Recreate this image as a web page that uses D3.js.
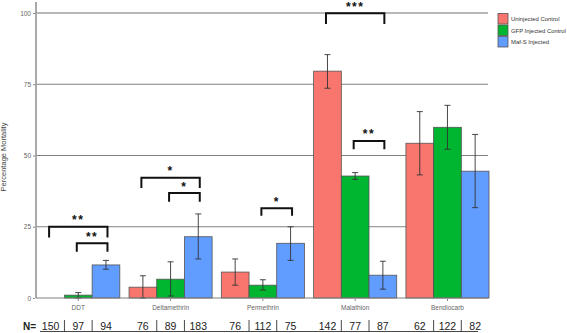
<!DOCTYPE html>
<html>
  <head>
    <script type="text/javascript" src="https://cdnjs.cloudflare.com/ajax/libs/d3/7.8.5/d3.min.js"></script>
    <style>
      body { margin: 0; background: #fff; }
      text { font-family: "Liberation Sans", Arial, sans-serif; }
    </style>
  </head>
  <body>
    <script type="text/javascript">
      var w = 567;
      var h = 333;

      // insecticides and injection treatments
      var groups = ["DDT", "Deltamethrin", "Permethrin", "Malathion", "Bendiocarb"];
      var series = ["Uninjected Control", "GFP Injected Control", "Maf-S Injected"];
      var colors = ["#F8766D", "#00B52F", "#619CFF"];

      // percentage mortality per group, one array per series
      var uninjected = [0, 3.8, 9.1, 79.6, 54.3];
      var gfp = [1.0, 6.6, 4.5, 42.8, 59.9];
      var mafs = [11.6, 21.5, 19.2, 8.0, 44.5];

      // error bar low / high
      var uninjectedLo = [0, 0, 4.5, 73.6, 43.2];
      var uninjectedHi = [0, 7.8, 13.7, 85.4, 65.4];
      var gfpLo = [0, 0.7, 2.8, 41.6, 52.2];
      var gfpHi = [1.9, 12.7, 6.4, 44.0, 67.6];
      var mafsLo = [10.1, 13.7, 13.2, 3.1, 31.7];
      var mafsHi = [13.2, 29.5, 25.0, 12.9, 57.4];

      // sample sizes (N=)
      var uninjectedN = [150, 76, 76, 142, 62];
      var gfpN = [97, 89, 112, 77, 122];
      var mafsN = [94, 183, 75, 87, 82];

      // significance brackets: group, from series, to series, level, leg end, label
      var brackets = [
        ["DDT", 0, 2, 25.0, 21.2, "**"],
        ["DDT", 1, 2, 19.2, 16.2, "**"],
        ["Deltamethrin", 0, 2, 42.2, 38.6, "*"],
        ["Deltamethrin", 1, 2, 36.8, 33.8, "*"],
        ["Permethrin", 1, 2, 31.5, 28.9, "*"],
        ["Malathion", 0, 2, 99.9, 96.1, "***"],
        ["Malathion", 1, 2, 55.1, 52.2, "**"]
      ];

      var yTicks = [0, 25, 50, 75, 100];

      var values = [uninjected, gfp, mafs];
      var lows = [uninjectedLo, gfpLo, mafsLo];
      var highs = [uninjectedHi, gfpHi, mafsHi];
      var ns = [uninjectedN, gfpN, mafsN];

      var rows = [];
      groups.forEach((g, gi) => {
        series.forEach((s, si) => {
          rows.push({ group: g, series: s, si: si, v: values[si][gi],
                      lo: lows[si][gi], hi: highs[si][gi], n: ns[si][gi] });
        });
      });

      var xScale = d3.scaleBand()
        .domain(groups)
        .range([36.75, 489])
        .paddingInner(0.1)
        .paddingOuter(0);
      var xSub = d3.scaleBand()
        .domain(series)
        .range([0, xScale.bandwidth()]);
      var yScale = d3.scaleLinear()
        .domain([0, 100])
        .range([298, 13]);

      var cx = d => xScale(d.group) + xSub(d.series) + xSub.bandwidth() / 2;

      var svg = d3.select("body").append("svg")
        .attr("width", w)
        .attr("height", h);

      // gridlines
      svg.selectAll("line.grid")
        .data(yTicks.filter(t => t > 0))
        .enter()
        .append("line")
        .attr("x1", 36).attr("x2", 488)
        .attr("y1", d => yScale(d)).attr("y2", d => yScale(d))
        .attr("stroke", d => d === 100 ? "#a0a0a0" : "#808080")
        .attr("stroke-width", d => d === 100 ? 1.6 : 1.1);

      // bars
      svg.selectAll("rect.bar")
        .data(rows.filter(d => d.v > 0))
        .enter()
        .append("rect")
        .attr("x", d => xScale(d.group) + xSub(d.series))
        .attr("width", xSub.bandwidth())
        .attr("y", d => yScale(d.v))
        .attr("height", d => yScale(0) - yScale(d.v))
        .attr("fill", d => colors[d.si])
        .attr("stroke", "#555")
        .attr("stroke-width", 0.8);

      // error bars
      var err = svg.selectAll("g.err")
        .data(rows.filter(d => d.hi > 0))
        .enter()
        .append("g")
        .attr("stroke", "#333")
        .attr("stroke-width", 0.9);
      err.append("line")
        .attr("x1", cx).attr("x2", cx)
        .attr("y1", d => yScale(d.lo)).attr("y2", d => yScale(d.hi));
      err.append("line")
        .attr("x1", d => cx(d) - 3).attr("x2", d => cx(d) + 3)
        .attr("y1", d => yScale(d.hi)).attr("y2", d => yScale(d.hi));
      err.append("line")
        .attr("x1", d => cx(d) - 3).attr("x2", d => cx(d) + 3)
        .attr("y1", d => yScale(d.lo)).attr("y2", d => yScale(d.lo));

      // axes lines
      svg.append("line")
        .attr("x1", 36).attr("x2", 36).attr("y1", 2).attr("y2", yScale(0))
        .attr("stroke", "#a0a0a0").attr("stroke-width", 1.8);
      svg.append("line")
        .attr("x1", 36).attr("x2", 488).attr("y1", yScale(0)).attr("y2", yScale(0))
        .attr("stroke", "#808080").attr("stroke-width", 1.2);

      // y axis
      var yAxis = svg.append("g")
        .attr("transform", "translate(35,0)")
        .call(d3.axisLeft(yScale).tickValues(yTicks).tickSize(2).tickPadding(2));
      yAxis.select(".domain").remove();
      yAxis.selectAll("line").attr("stroke", "#888");
      yAxis.selectAll("text").attr("fill", "#666").attr("font-size", "6.5px");

      // x axis
      var xAxis = svg.append("g")
        .attr("transform", "translate(0," + (yScale(0) + 1) + ")")
        .call(d3.axisBottom(xScale).tickSize(2).tickPadding(4));
      xAxis.select(".domain").remove();
      xAxis.selectAll("line").attr("stroke", "#888");
      xAxis.selectAll("text").attr("fill", "#666").attr("font-size", "6.5px");

      // y axis title
      svg.append("text")
        .attr("transform", "translate(6,157) rotate(-90)")
        .attr("text-anchor", "middle")
        .attr("font-size", "7.5px")
        .attr("fill", "#444")
        .text("Percentage Mortality");

      // significance brackets
      brackets.forEach(b => {
        var x1 = xScale(b[0]) + xSub(series[b[1]]) + xSub.bandwidth() / 2 - 1.5;
        var x2 = xScale(b[0]) + xSub(series[b[2]]) + xSub.bandwidth() / 2 + 1.5;
        svg.append("path")
          .attr("d", "M" + x1 + "," + yScale(b[4]) + "V" + yScale(b[3]) + "H" + x2 + "V" + yScale(b[4]))
          .attr("fill", "none")
          .attr("stroke", "#111")
          .attr("stroke-width", 2);
        svg.append("text")
          .attr("x", (x1 + x2) / 2)
          .attr("y", yScale(b[3]) - 2.5)
          .attr("text-anchor", "middle")
          .attr("font-size", "12px")
          .attr("font-weight", "bold")
          .attr("letter-spacing", "1.5px")
          .attr("fill", "#111")
          .text(b[5]);
      });

      // legend
      var legend = svg.selectAll("g.legend")
        .data(series)
        .enter()
        .append("g")
        .attr("transform", (d, i) => "translate(498," + (13.5 + i * 11.5) + ")");
      legend.append("rect")
        .attr("width", 10).attr("height", 10.5)
        .attr("fill", (d, i) => colors[i])
        .attr("stroke", "#555").attr("stroke-width", 0.8);
      legend.append("text")
        .attr("x", 13).attr("y", 7.8)
        .attr("font-size", "5.9px")
        .attr("fill", "#333")
        .text(d => d);

      // N= row
      var nY = 330;
      svg.append("text")
        .attr("x", 23).attr("y", nY)
        .attr("font-family", "Lato, sans-serif")
        .attr("font-size", "10px")
        .attr("font-weight", "bold")
        .attr("fill", "#222")
        .text("N=");
      svg.selectAll("text.n")
        .data(rows)
        .enter()
        .append("text")
        .attr("x", cx).attr("y", nY)
        .attr("text-anchor", "middle")
        .attr("font-family", "Lato, sans-serif")
        .attr("font-size", "10.5px")
        .attr("fill", "#222")
        .text(d => d.n);
      svg.selectAll("line.sep")
        .data(rows.filter(d => d.si > 0))
        .enter()
        .append("line")
        .attr("x1", d => xScale(d.group) + xSub(d.series))
        .attr("x2", d => xScale(d.group) + xSub(d.series))
        .attr("y1", 320).attr("y2", 331.5)
        .attr("stroke", "#333").attr("stroke-width", 0.9);
      svg.append("line")
        .attr("x1", 40).attr("x2", 478).attr("y1", 331.5).attr("y2", 331.5)
        .attr("stroke", "#333").attr("stroke-width", 0.9);
    </script>
  </body>
</html>
